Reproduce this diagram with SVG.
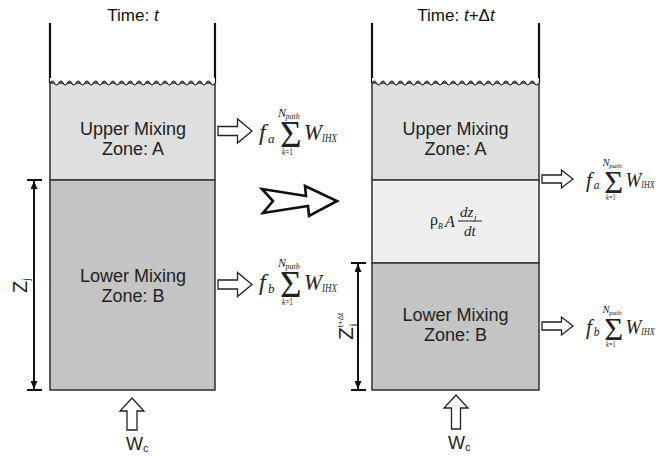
<svg xmlns="http://www.w3.org/2000/svg" width="670" height="456" viewBox="0 0 670 456">
<defs>
<style>
.lbl{font-family:"Liberation Sans",Arial,sans-serif;font-size:18px;fill:#222;text-anchor:middle}
.time{font-family:"Liberation Sans",Arial,sans-serif;font-size:17px;fill:#111;text-anchor:middle}
.it{font-style:italic}
.math{font-family:"Liberation Serif","Times New Roman",serif;fill:#222}
.wall{stroke:#111;stroke-width:2.2;fill:none}
.zone{stroke:#3a3a3a;stroke-width:1.6}
.wave{stroke:#222;stroke-width:1.1;fill:none}
.hol{fill:#fff;stroke:#222;stroke-width:1.3;stroke-linejoin:miter}
.dim{stroke:#111;stroke-width:2;fill:none}
.ztxt{font-family:"Liberation Sans",Arial,sans-serif;fill:#222}
</style>
<marker id="ah" viewBox="0 0 10 10" refX="10" refY="5" markerUnits="userSpaceOnUse" markerWidth="8" markerHeight="7" preserveAspectRatio="none" orient="auto-start-reverse">
<path d="M0,0 L10,5 L0,10 z" fill="#111"/>
</marker>
</defs>
<rect width="670" height="456" fill="#fff"/>

<g id="tank-left">
<rect x="50" y="83" width="165" height="97" fill="#dfdfdf" class="zone"/>
<rect x="50" y="180" width="165" height="210" fill="#c4c4c4" class="zone"/>
<line x1="50" y1="23" x2="50" y2="83" class="wall"/>
<line x1="215" y1="23" x2="215" y2="83" class="wall"/>
<path d="M50,83 q2.17,-4 4.34,0 t4.34,0 t4.34,0 t4.34,0 t4.34,0 t4.34,0 t4.34,0 t4.34,0 t4.34,0 t4.34,0 t4.34,0 t4.34,0 t4.34,0 t4.34,0 t4.34,0 t4.34,0 t4.34,0 t4.34,0 t4.34,0 t4.34,0 t4.34,0 t4.34,0 t4.34,0 t4.34,0 t4.34,0 t4.34,0 t4.34,0 t4.34,0 t4.34,0 t4.34,0 t4.34,0 t4.34,0 t4.34,0 t4.34,0 t4.34,0 t4.34,0 t4.34,0 t4.34,0 V78 H50 Z" fill="#fff" stroke="none"/>
<path class="wave" d="M50,83 q2.17,-4 4.34,0 t4.34,0 t4.34,0 t4.34,0 t4.34,0 t4.34,0 t4.34,0 t4.34,0 t4.34,0 t4.34,0 t4.34,0 t4.34,0 t4.34,0 t4.34,0 t4.34,0 t4.34,0 t4.34,0 t4.34,0 t4.34,0 t4.34,0 t4.34,0 t4.34,0 t4.34,0 t4.34,0 t4.34,0 t4.34,0 t4.34,0 t4.34,0 t4.34,0 t4.34,0 t4.34,0 t4.34,0 t4.34,0 t4.34,0 t4.34,0 t4.34,0 t4.34,0 t4.34,0"/>
<text class="time" x="133" y="21">Time: <tspan class="it">t</tspan></text>
<text class="lbl" x="133" y="135">Upper Mixing</text>
<text class="lbl" x="133" y="155">Zone: A</text>
<text class="lbl" x="133" y="282">Lower Mixing</text>
<text class="lbl" x="133" y="302">Zone: B</text>
</g>

<g id="tank-right">
<rect x="372" y="83" width="167" height="97" fill="#dfdfdf" class="zone"/>
<rect x="372" y="180" width="167" height="83" fill="#efefef" class="zone"/>
<rect x="372" y="263" width="167" height="127" fill="#c4c4c4" class="zone"/>
<line x1="372" y1="23" x2="372" y2="83" class="wall"/>
<line x1="539" y1="23" x2="539" y2="83" class="wall"/>
<path d="M372,83 q2.2,-4 4.39,0 t4.39,0 t4.39,0 t4.39,0 t4.39,0 t4.39,0 t4.39,0 t4.39,0 t4.39,0 t4.39,0 t4.39,0 t4.39,0 t4.39,0 t4.39,0 t4.39,0 t4.39,0 t4.39,0 t4.39,0 t4.39,0 t4.39,0 t4.39,0 t4.39,0 t4.39,0 t4.39,0 t4.39,0 t4.39,0 t4.39,0 t4.39,0 t4.39,0 t4.39,0 t4.39,0 t4.39,0 t4.39,0 t4.39,0 t4.39,0 t4.39,0 t4.39,0 t4.39,0 V78 H372 Z" fill="#fff" stroke="none"/>
<path class="wave" d="M372,83 q2.2,-4 4.39,0 t4.39,0 t4.39,0 t4.39,0 t4.39,0 t4.39,0 t4.39,0 t4.39,0 t4.39,0 t4.39,0 t4.39,0 t4.39,0 t4.39,0 t4.39,0 t4.39,0 t4.39,0 t4.39,0 t4.39,0 t4.39,0 t4.39,0 t4.39,0 t4.39,0 t4.39,0 t4.39,0 t4.39,0 t4.39,0 t4.39,0 t4.39,0 t4.39,0 t4.39,0 t4.39,0 t4.39,0 t4.39,0 t4.39,0 t4.39,0 t4.39,0 t4.39,0 t4.39,0"/>
<text class="time" x="456" y="21">Time: <tspan class="it">t</tspan>+Δ<tspan class="it">t</tspan></text>
<text class="lbl" x="455.5" y="135">Upper Mixing</text>
<text class="lbl" x="455.5" y="155">Zone: A</text>
<text class="lbl" x="455.5" y="321">Lower Mixing</text>
<text class="lbl" x="455.5" y="341">Zone: B</text>
<g id="middle-formula" class="math">
<text x="430" y="225" font-size="16">ρ</text>
<text x="438" y="229" font-size="8" class="it">B</text>
<text x="445" y="227" font-size="16" class="it">A</text>
<line x1="458" y1="221" x2="482" y2="221" stroke="#222" stroke-width="1"/>
<text x="460" y="217" font-size="15" class="it">dz</text>
<text x="474" y="220" font-size="9" class="it">j</text>
<text x="464" y="236" font-size="15" class="it">dt</text>
</g>
</g>

<g id="formulas" class="math">
<g id="f-left-a" transform="translate(258,140)">
<text x="1" y="0" font-size="24" class="it">f</text>
<text x="10" y="3" font-size="13" class="it">a</text>
<text x="22" y="7" font-size="37">Σ</text>
<text x="20" y="-23" font-size="12" class="it">N</text>
<text x="27.5" y="-21" font-size="8" class="it">path</text>
<text x="24" y="15" font-size="10" textLength="11" lengthAdjust="spacingAndGlyphs"><tspan class="it">k</tspan>=1</text>
<text x="46" y="0" font-size="24" class="it" textLength="18" lengthAdjust="spacingAndGlyphs">W</text>
<text x="64" y="2" font-size="12" class="it" textLength="15" lengthAdjust="spacingAndGlyphs">IHX</text>
</g>
<g id="f-left-b" transform="translate(258,290)">
<text x="1" y="0" font-size="24" class="it">f</text>
<text x="10" y="3" font-size="13" class="it">b</text>
<text x="22" y="7" font-size="37">Σ</text>
<text x="20" y="-23" font-size="12" class="it">N</text>
<text x="27.5" y="-21" font-size="8" class="it">path</text>
<text x="24" y="15" font-size="10" textLength="11" lengthAdjust="spacingAndGlyphs"><tspan class="it">k</tspan>=1</text>
<text x="46" y="0" font-size="24" class="it" textLength="18" lengthAdjust="spacingAndGlyphs">W</text>
<text x="64" y="2" font-size="12" class="it" textLength="15" lengthAdjust="spacingAndGlyphs">IHX</text>
</g>
<g id="f-right-a" transform="translate(585,186.5) scale(0.88)">
<text x="1" y="0" font-size="24" class="it">f</text>
<text x="10" y="3" font-size="13" class="it">a</text>
<text x="22" y="7" font-size="37">Σ</text>
<text x="20" y="-23" font-size="12" class="it">N</text>
<text x="27.5" y="-21" font-size="8" class="it">path</text>
<text x="24" y="15" font-size="10" textLength="11" lengthAdjust="spacingAndGlyphs"><tspan class="it">k</tspan>=1</text>
<text x="46" y="0" font-size="24" class="it" textLength="18" lengthAdjust="spacingAndGlyphs">W</text>
<text x="64" y="2" font-size="12" class="it" textLength="15" lengthAdjust="spacingAndGlyphs">IHX</text>
</g>
<g id="f-right-b" transform="translate(585,333.5) scale(0.88)">
<text x="1" y="0" font-size="24" class="it">f</text>
<text x="10" y="3" font-size="13" class="it">b</text>
<text x="22" y="7" font-size="37">Σ</text>
<text x="20" y="-23" font-size="12" class="it">N</text>
<text x="27.5" y="-21" font-size="8" class="it">path</text>
<text x="24" y="15" font-size="10" textLength="11" lengthAdjust="spacingAndGlyphs"><tspan class="it">k</tspan>=1</text>
<text x="46" y="0" font-size="24" class="it" textLength="18" lengthAdjust="spacingAndGlyphs">W</text>
<text x="64" y="2" font-size="12" class="it" textLength="15" lengthAdjust="spacingAndGlyphs">IHX</text>
</g>
</g>

<g id="dimensions">
<line x1="27" y1="180" x2="42" y2="180" class="dim"/>
<line x1="27" y1="390" x2="42" y2="390" class="dim"/>
<line x1="34" y1="181" x2="34" y2="389" class="dim" marker-start="url(#ah)" marker-end="url(#ah)"/>
<line x1="351" y1="263" x2="366" y2="263" class="dim"/>
<line x1="351" y1="390" x2="366" y2="390" class="dim"/>
<line x1="358" y1="264" x2="358" y2="389" class="dim" marker-start="url(#ah)" marker-end="url(#ah)"/>
<text class="ztxt" transform="translate(27,293) rotate(-90)" font-size="20">Z<tspan font-size="10" dy="3">j</tspan></text>
<text class="ztxt" transform="translate(353,340) rotate(-90)" font-size="21">Z<tspan font-size="8" dy="-10">t+Δt</tspan><tspan font-size="9" x="14" dy="13">j</tspan></text>
</g>

<g id="connectors">
<path class="hol" d="M218,126.5 H237.5 V119 L252,131 L237.5,143 V135.5 H218 Z"/>
<path class="hol" d="M218,280 H237.5 V272.5 L252,284.5 L237.5,296.5 V289 H218 Z"/>
<path class="hol" d="M542,175 H561.5 V170 L573,179 L561.5,188 V183 H542 Z"/>
<path class="hol" d="M542,322 H561.5 V317 L573,326 L561.5,335 V330 H542 Z"/>
<path class="hol" d="M127,430 V411 H120 L132,398 L144,411 H137 V430 Z"/>
<path class="hol" d="M451.5,429 V408 H444 L456,395 L468,408 H460.5 V429 Z"/>
<path d="M262,189 L306,196 L305,186 L337,201 L309,216 L308,206 L263,213 L273,201 Z" fill="#fff" stroke="#111" stroke-width="2.6" stroke-linejoin="miter"/>
</g>

<g id="inflow-labels">
<text class="ztxt" x="126" y="450" font-size="18">W<tspan font-size="11" dy="2">c</tspan></text>
<text class="ztxt" x="448" y="449" font-size="18">W<tspan font-size="11" dy="2">c</tspan></text>
</g>
</svg>
